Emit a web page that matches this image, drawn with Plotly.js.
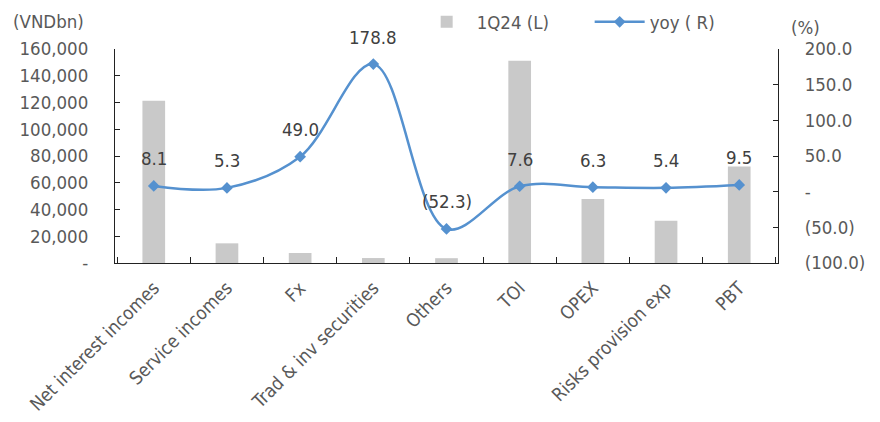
<!DOCTYPE html>
<html>
<head>
<meta charset="utf-8">
<script src="https://cdn.plot.ly/plotly-3.0.1.min.js"></script>
<style>html,body{margin:0;padding:0;background:#fff;}#chart{width:880px;height:422px;}</style>
</head>
<body>
<div id="chart"></div>
<script>
const categories = ["Net interest incomes","Service incomes","Fx","Trad & inv securities","Others","TOI","OPEX","Risks provision exp","PBT"];
const values1Q24 = [121300, 14700, 7500, 3700, 3600, 151300, 47900, 31600, 72200];
const yoyPct = [8.1, 5.3, 49.0, 178.8, -52.3, 7.6, 6.3, 5.4, 9.5];
const leftTicks = [0, 20000, 40000, 60000, 80000, 100000, 120000, 140000, 160000];
const rightTicks = [-100, -50, 0, 50, 100, 150, 200];

const fmtLeft = v => v === 0 ? "-" : v.toLocaleString("en-US");
const fmtRight = v => v === 0 ? "-" : (v < 0 ? "(" + Math.abs(v).toFixed(1) + ")" : v.toFixed(1));

const FONT = "DejaVu Sans Condensed, DejaVu Sans, Verdana, sans-serif";
const FS = 18.5;
const GREY = "#595959";
const LINE = "#5591CF";

const traces = [
  {
    type: "bar", name: "1Q24 (L)", x: categories, y: values1Q24,
    marker: {color: "#C9C9C9"}, width: 0.31, hoverinfo: "skip"
  },
  {
    type: "scatter", mode: "lines+markers", name: "yoy ( R)", x: categories, y: yoyPct, yaxis: "y2",
    line: {color: LINE, width: 2.5, shape: "spline", smoothing: 1.0},
    marker: {symbol: "diamond", size: 9, color: LINE}, hoverinfo: "skip"
  }
];

const annotations = yoyPct.map((v, i) => ({
  x: categories[i], y: v, xref: "x", yref: "y2",
  text: fmtRight(v),
  showarrow: false, yshift: 27,
  font: {family: FONT, size: FS, color: "#404040"}
}));
annotations.push({xref: "paper", yref: "paper", x: -0.1, y: 1.14, xanchor: "center", yanchor: "middle",
  text: "(VNDbn)", showarrow: false, xshift: 0, yshift: -2, font: {family: FONT, size: FS, color: GREY}});
annotations.push({xref: "paper", yref: "paper", x: 1.0, y: 1.10, xanchor: "left", yanchor: "middle",
  text: "(%)", showarrow: false, xshift: 11, font: {family: FONT, size: FS, color: GREY}});

const layout = {
  width: 880, height: 422,
  margin: {l: 115, r: 102, t: 49, b: 159, autoexpand: false},
  paper_bgcolor: "#fff", plot_bgcolor: "#fff",
  font: {family: FONT, size: FS, color: GREY},
  showlegend: true,
  legend: {orientation: "h", x: 0.455, y: 1.125, xanchor: "left", yanchor: "middle",
    font: {family: FONT, size: FS, color: GREY}, traceorder: "normal", itemwidth: 50,
    entrywidth: 108},
  xaxis: {
    showline: true, linecolor: "#222", linewidth: 1,
    ticks: "inside", tickson: "boundaries", ticklen: 6, tickcolor: "#222",
    tickangle: -45, showgrid: false, zeroline: false,
    ticklabelstandoff: 6,
    tickfont: {family: FONT, size: FS, color: GREY}
  },
  yaxis: {
    range: [0, 160000], tickvals: leftTicks, ticktext: leftTicks.map(fmtLeft),
    showline: true, linecolor: "#222", linewidth: 1,
    ticks: "inside", ticklen: 5, tickcolor: "#222",
    showgrid: false, zeroline: false, ticklabelstandoff: 22,
    tickfont: {family: FONT, size: FS, color: GREY}
  },
  yaxis2: {
    overlaying: "y", side: "right", range: [-100, 200],
    tickvals: rightTicks, ticktext: rightTicks.map(fmtRight),
    showline: true, linecolor: "#222", linewidth: 1,
    ticks: "inside", ticklen: 5, tickcolor: "#222",
    showgrid: false, zeroline: false, ticklabelstandoff: 22,
    tickfont: {family: FONT, size: FS, color: GREY}
  },
  annotations: annotations
};

Plotly.newPlot("chart", traces, layout, {displayModeBar: false, staticPlot: true});
</script>
</body>
</html>
